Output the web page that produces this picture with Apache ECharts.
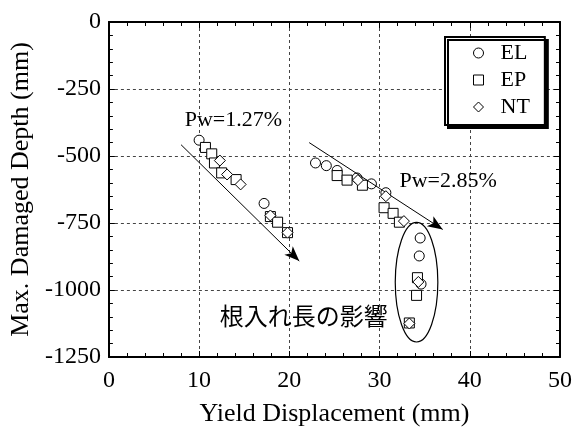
<!DOCTYPE html>
<html>
<head>
<meta charset="utf-8">
<script src="https://cdn.jsdelivr.net/npm/echarts@6/dist/echarts.min.js"></script>
<style>html,body{margin:0;padding:0;background:#fff;}#c{width:581px;height:432px;}</style>
</head>
<body>
<div id="c"></div>
<script>
// ---- data (Yield Displacement mm, Max. Damaged Depth mm) ----
const seriesNames = ['EL', 'EP', 'NT'];
const dataEL = [
  [10.0, -441], [17.2, -677],
  [22.9, -526], [24.1, -536], [25.3, -554], [27.5, -582], [29.1, -604], [30.7, -637],
  [34.5, -806], [34.4, -873], [34.6, -978]
];
const dataEP = [
  [10.7, -468], [11.4, -492], [11.7, -526], [12.5, -563], [14.1, -588],
  [17.9, -726], [18.7, -747], [19.8, -786],
  [25.3, -573], [26.4, -590], [28.1, -609], [30.5, -693], [31.5, -714], [32.2, -747],
  [34.2, -954], [34.1, -1020], [33.3, -1123]
];
const dataNT = [
  [12.3, -517], [13.1, -569], [14.6, -606], [17.9, -722], [19.8, -786],
  [27.6, -590], [30.7, -650], [32.7, -743],
  [34.3, -970], [33.3, -1125]
];
// tick settings
const xMin = 0, xMax = 50, xStep = 10;
const yMin = -1250, yMax = 0, yStep = 250;
// annotations (data units)
const arrows = [
  [[8.0, -458], [21.1, -892]],
  [[22.2, -450], [37.0, -774]]
];
const ellipseAnn = [[34.1, -971, 2.36, 223]];
const textAnn = [
  [8.4, -368, 'Pw=1.27%', 'serif'],
  [32.2, -595, 'Pw=2.85%', 'serif'],
  [12.3, -1097, '根入れ長の影響', 'cjk']
];

const serif = '"Liberation Serif", "Times New Roman", serif';
const cjk = '"Noto Sans CJK JP", "Noto Sans", sans-serif';

const chart = echarts.init(document.getElementById('c'), null, {renderer: 'canvas'});

function mkX(pos, labels) {
  return {
    type: 'value', min: xMin, max: xMax, interval: xStep, position: pos,
    name: labels ? 'Yield Displacement (mm)' : '',
    nameLocation: 'middle', nameGap: 44,
    nameTextStyle: {fontFamily: serif, fontSize: 26, color: '#000'},
    axisLine: {show: true, onZero: false, lineStyle: {color: '#000', width: 2}},
    axisTick: {show: true, inside: true, length: 6, lineStyle: {color: '#000', width: 1}},
    minorTick: {show: true, splitNumber: 5, length: 4, lineStyle: {color: '#000', width: 1}},
    axisLabel: {show: labels, fontFamily: serif, fontSize: 24, color: '#000', margin: 12,
      formatter: v => String(v)},
    splitLine: {show: labels, lineStyle: {color: '#444', width: 1, type: [3, 3]}}
  };
}
function mkY(pos, labels) {
  return {
    type: 'value', min: yMin, max: yMax, interval: yStep, position: pos,
    name: labels ? 'Max. Damaged Depth (mm)' : '',
    nameLocation: 'middle', nameGap: 66,
    nameTextStyle: {fontFamily: serif, fontSize: 26, color: '#000'},
    axisLine: {show: true, onZero: false, lineStyle: {color: '#000', width: 2}},
    axisTick: {show: true, inside: true, length: 6, lineStyle: {color: '#000', width: 1}},
    minorTick: {show: true, splitNumber: 5, length: 4, lineStyle: {color: '#000', width: 1}},
    axisLabel: {show: labels, fontFamily: serif, fontSize: 24, color: '#000', margin: 8,
      formatter: v => String(v)},
    splitLine: {show: labels, lineStyle: {color: '#444', width: 1, type: [3, 3]}}
  };
}

const symItem = {color: '#fff', borderColor: '#000', borderWidth: 1, opacity: 1};

const option = {
  animation: false,
  backgroundColor: '#fff',
  grid: {left: 105, right: 21, top: 22, bottom: 74, containLabel: false},
  xAxis: [mkX('bottom', true), mkX('top', false)],
  yAxis: [mkY('left', true), mkY('right', false)],
  legend: {
    data: [
      {name: 'EL', icon: 'circle'},
      {name: 'EP', icon: 'rect'},
      {name: 'NT', icon: 'diamond'}
    ],
    orient: 'vertical',
    left: 445, top: 37,
    itemWidth: 10, itemHeight: 10, itemGap: 5,
    padding: [5, 15, 7, 28],
    backgroundColor: '#fff',
    borderColor: '#000', borderWidth: 2, borderRadius: 0,
    shadowColor: '#000', shadowBlur: 0, shadowOffsetX: 3, shadowOffsetY: 3,
    itemStyle: {color: '#fff', borderColor: '#000', borderWidth: 1},
    textStyle: {fontFamily: serif, fontSize: 22, color: '#000', padding: [0, 0, 0, 12]},
    selectedMode: false
  },
  series: [
    {
      name: 'EL', type: 'scatter', symbol: 'circle', symbolSize: 10,
      itemStyle: symItem, data: dataEL, z: 3
    },
    {
      name: 'EP', type: 'scatter', symbol: 'rect', symbolSize: 10,
      itemStyle: symItem, data: dataEP, z: 4
    },
    {
      name: 'NT', type: 'scatter', symbol: 'diamond', symbolSize: 11,
      itemStyle: symItem, data: dataNT, z: 5,
      markLine: {
        silent: true, animation: false,
        symbol: ['none', 'arrow'], symbolSize: [9, 15],
        label: {show: false},
        lineStyle: {color: '#000', width: 1, type: 'solid'},
        data: arrows.map(a => [{coord: a[0]}, {coord: a[1]}])
      }
    },
    {
      name: 'ellipse', type: 'custom', silent: true, z: 6,
      data: ellipseAnn,
      renderItem: function (params, api) {
        const c = api.coord([api.value(0), api.value(1)]);
        const s = api.size([api.value(2), api.value(3)]);
        const rx = s[0], ry = s[1];
        const d = 'M' + (c[0] - rx) + ' ' + c[1] +
          ' A' + rx + ' ' + ry + ' 0 1 0 ' + (c[0] + rx) + ' ' + c[1] +
          ' A' + rx + ' ' + ry + ' 0 1 0 ' + (c[0] - rx) + ' ' + c[1] + ' Z';
        return {type: 'path', shape: {pathData: d}, style: {fill: 'none', stroke: '#000', lineWidth: 1.2}};
      }
    },
    {
      name: 'texts', type: 'custom', silent: true, z: 7,
      data: textAnn.map(t => [t[0], t[1]]),
      renderItem: function (params, api) {
        const t = textAnn[params.dataIndex];
        const c = api.coord([api.value(0), api.value(1)]);
        return {
          type: 'text', x: c[0], y: c[1],
          style: {
            text: t[2], fill: '#000',
            font: (t[3] === 'cjk' ? '24px ' + cjk : '22px ' + serif),
            align: 'left', verticalAlign: 'middle'
          }
        };
      }
    }
  ]
};
chart.setOption(option);
</script>
</body>
</html>
